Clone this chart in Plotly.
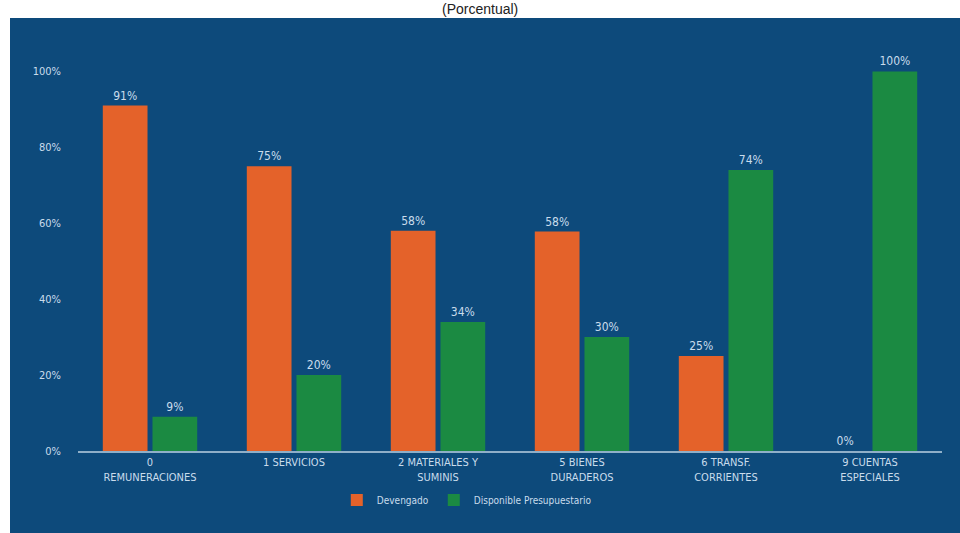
import plotly.graph_objects as go

categories = ["0<br>REMUNERACIONES", "1 SERVICIOS", "2 MATERIALES Y<br>SUMINIS",
              "5 BIENES<br>DURADEROS", "6 TRANSF.<br>CORRIENTES", "9 CUENTAS<br>ESPECIALES"]
devengado = [0.91, 0.75, 0.58, 0.578, 0.25, 0.0]
disponible = [0.09, 0.20, 0.34, 0.30, 0.74, 1.00]
tick_vals = [0, 0.2, 0.4, 0.6, 0.8, 1.0]
tick_text = ["0%", "20%", "40%", "60%", "80%", "100%"]

FONT = "Liberation Sans Narrow, Arial Narrow, DejaVu Sans Condensed, sans-serif"
TXT = "#C9DCEC"

fig = go.Figure()
fig.add_trace(go.Bar(x=categories, y=devengado, name="Devengado",
                     marker=dict(color="#E4622A", line=dict(width=0)),
                     texttemplate="%{y:.0%}", textposition="outside",
                     textfont=dict(color=TXT, size=12, family=FONT), cliponaxis=False))
fig.add_trace(go.Bar(x=categories, y=disponible, name="Disponible Presupuestario",
                     marker=dict(color="#1B8A42", line=dict(width=0)),
                     texttemplate="%{y:.0%}", textposition="outside",
                     textfont=dict(color=TXT, size=12, family=FONT), cliponaxis=False))

W, H = 960, 533
l, r, t, b = 78, 18, 60, 82
pw, ph = W - l - r, H - t - b

def px_x(x):
    return (x - l) / pw

def px_y(y):
    return (H - b - y) / ph

fig.add_shape(type="rect", xref="paper", yref="paper",
              x0=px_x(10), x1=px_x(962), y0=px_y(535), y1=px_y(18),
              fillcolor="#0D4A7B", line=dict(width=0), layer="below")

fig.add_annotation(text="(Porcentual)", xref="paper", yref="paper",
                   x=px_x(480), y=px_y(9), showarrow=False,
                   font=dict(family="Liberation Sans, Arial, sans-serif", size=14, color="#222222"),
                   xanchor="center", yanchor="middle")

fig.update_layout(
    width=W, height=H,
    margin=dict(l=l, r=r, t=t, b=b),
    paper_bgcolor="white", plot_bgcolor="rgba(0,0,0,0)",
    barmode="group", bargap=0.31, bargroupgap=0.1,
    font=dict(family=FONT, color=TXT, size=11),
    showlegend=True,
    legend=dict(orientation="h", x=0.45, xanchor="center", y=px_y(500), yanchor="middle",
                font=dict(size=10, color=TXT, family=FONT), bgcolor="rgba(0,0,0,0)",
                itemwidth=30),
    xaxis=dict(showgrid=False, showline=True, linecolor="#8FAFC8", linewidth=2,
               tickfont=dict(size=11, color=TXT, family=FONT), ticks=""),
    yaxis=dict(range=[0, 1.03], tickvals=tick_vals, ticktext=tick_text, showgrid=False,
               zeroline=False, showline=False, ticks="", ticklabelstandoff=16,
               tickfont=dict(size=11, color=TXT, family=FONT)),
)

fig.write_html("out.html")
